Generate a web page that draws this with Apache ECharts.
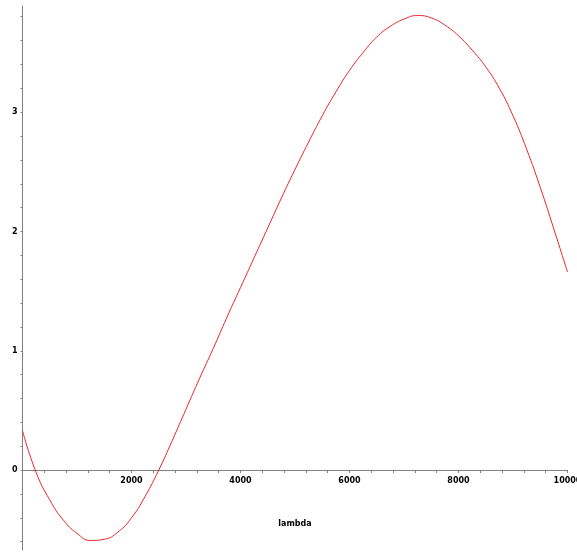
<!DOCTYPE html>
<html>
<head>
<meta charset="utf-8">
<script src="https://cdn.jsdelivr.net/npm/echarts@6/dist/echarts.min.js"></script>
<style>
  html, body { margin: 0; padding: 0; background: #fff; }
  #chart { width: 577px; height: 553px; }
</style>
</head>
<body>
<div id="chart"></div>
<script>
// values
const lambdaValues = [
  0, 250, 500, 750, 1000, 1250, 1500, 1750, 2000, 2250,
  2500, 2750, 3000, 3250, 3500, 3750, 4000, 4250, 4500, 4750,
  5000, 5250, 5500, 5750, 6000, 6250, 6500, 6750, 7000, 7250,
  7500, 7750, 8000, 8250, 8500, 8750, 9000, 9250, 9500, 9750, 10000
];
const curveValues = [
  0.33, -0.02, -0.25, -0.42, -0.53, -0.59, -0.58, -0.52, -0.40, -0.22,
  0.00, 0.25, 0.51, 0.77, 1.02, 1.28, 1.53, 1.78, 2.03, 2.28,
  2.52, 2.75, 2.97, 3.17, 3.35, 3.50, 3.63, 3.72, 3.78, 3.81,
  3.79, 3.73, 3.64, 3.52, 3.38, 3.20, 2.97, 2.69, 2.37, 2.02, 1.66
];
const xTickLabels = [2000, 4000, 6000, 8000, 10000];
const xMinorTicks = [400, 800, 1200, 1600, 2000, 2400, 2800, 3200, 3600, 4000,
  4400, 4800, 5200, 5600, 6000, 6400, 6800, 7200, 7600, 8000,
  8400, 8800, 9200, 9600, 10000];
const yTickLabels = [0, 1, 2, 3];
const yMinorTicks = [-0.6, -0.4, -0.2, 0, 0.2, 0.4, 0.6, 0.8, 1, 1.2, 1.4, 1.6, 1.8,
  2, 2.2, 2.4, 2.6, 2.8, 3, 3.2, 3.4, 3.6, 3.8];

const chart = echarts.init(document.getElementById('chart'));

const axisColor = '#808080';
const labelStyle = {
  color: '#000',
  fontSize: 8,
  fontWeight: 'bold',
  fontFamily: 'DejaVu Sans, sans-serif'
};

chart.setOption({
  animation: false,
  grid: { left: 22.5, right: 9.5, top: 6, bottom: 3, outerBoundsMode: 'none', containLabel: false },
  xAxis: {
    type: 'value',
    min: 0,
    max: 10000,
    name: 'lambda',
    nameLocation: 'middle',
    // labels/name sit at the grid edge, pull them up under the zero line
    nameGap: -30,
    nameTextStyle: labelStyle,
    axisLine: { onZero: true, lineStyle: { color: axisColor, width: 1 } },
    axisTick: { show: true, length: 3, customValues: xMinorTicks, lineStyle: { color: axisColor } },
    axisLabel: {
      ...labelStyle,
      margin: -73,
      customValues: xTickLabels,
      hideOverlap: false,
      formatter: v => String(v)
    },
    splitLine: { show: false }
  },
  yAxis: {
    type: 'value',
    min: -0.67,
    max: 3.89,
    axisLine: { show: true, onZero: true, lineStyle: { color: axisColor, width: 1 } },
    axisTick: { show: true, length: 2, customValues: yMinorTicks, lineStyle: { color: axisColor } },
    axisLabel: { ...labelStyle, margin: 5, customValues: yTickLabels, hideOverlap: false },
    splitLine: { show: false }
  },
  series: [{
    type: 'line',
    data: lambdaValues.map((l, i) => [l, curveValues[i]]),
    smooth: true,
    showSymbol: false,
    lineStyle: { color: '#e8262b', width: 1 }
  }]
});
</script>
</body>
</html>
